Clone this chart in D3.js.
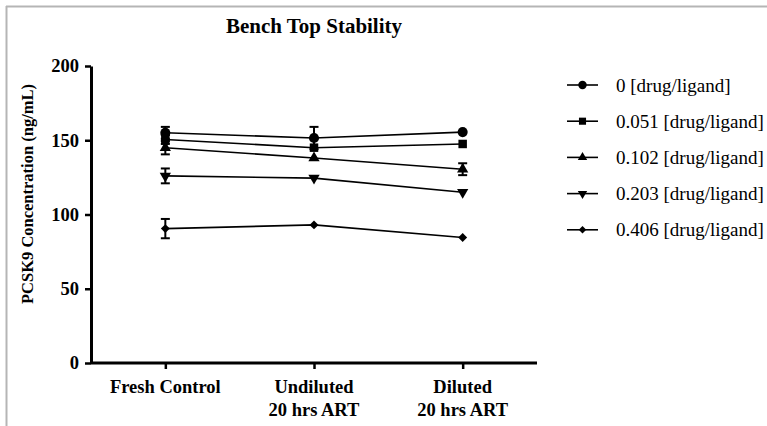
<!DOCTYPE html>
<html>
<head>
<meta charset="utf-8">
<script src="https://cdn.jsdelivr.net/npm/d3@7"></script>
<style>
  body { margin: 0; background: #fff; }
  text { font-family: "Liberation Serif", "Times New Roman", serif; fill: #000; }
</style>
</head>
<body>
<div id="chart"></div>
<script>
// DATA
const categories = ["Fresh Control", "Undiluted|20 hrs ART", "Diluted|20 hrs ART"];
const seriesNames = ["0 [drug/ligand]", "0.051 [drug/ligand]", "0.102 [drug/ligand]", "0.203 [drug/ligand]", "0.406 [drug/ligand]"];
const seriesSymbols = ["circle", "square", "triangle", "triangleDown", "diamond"];
const values0 = [155, 151.5, 155.5];
const values1 = [150.5, 145, 147.5];
const values2 = [145, 138, 130.5];
const values3 = [126, 124.5, 115];
const values4 = [90.5, 93, 84.5];
const errors0 = [4, 7.5, 0];
const errors1 = [3, 0, 0];
const errors2 = [4.5, 0, 4];
const errors3 = [5, 0, 0];
const errors4 = [6.5, 0, 0];
const yTicks = [0, 50, 100, 150, 200];

const allValues = [values0, values1, values2, values3, values4];
const allErrors = [errors0, errors1, errors2, errors3, errors4];

const W = 767, H = 426;
const svg = d3.select('#chart').append('svg')
  .attr('width', W).attr('height', H);

// grey frame (top and left edges)
svg.append('line').attr('x1', 6).attr('x2', W).attr('y1', 6.5).attr('y2', 6.5)
  .attr('stroke', '#b5b5b5').attr('stroke-width', 2);
svg.append('line').attr('x1', 6.5).attr('x2', 6.5).attr('y1', 6).attr('y2', H)
  .attr('stroke', '#b5b5b5').attr('stroke-width', 2);

const x = d3.scalePoint().domain(categories).range([91, 537]).padding(0.5);
const y = d3.scaleLinear().domain([0, 200]).range([363, 66]);

// title
svg.append('text')
  .attr('x', 314).attr('y', 33)
  .attr('text-anchor', 'middle')
  .attr('font-weight', 'bold')
  .attr('font-size', 20)
  .attr('textLength', 176).attr('lengthAdjust', 'spacingAndGlyphs')
  .text('Bench Top Stability');

// y axis
const yAxisG = svg.append('g')
  .attr('transform', 'translate(91,0)')
  .call(d3.axisLeft(y).tickValues(yTicks).tickSize(6).tickSizeOuter(0).tickPadding(6));
yAxisG.selectAll('text').attr('font-size', 18.5).attr('font-weight', 'bold')
  .attr('font-family', '"Liberation Serif", serif').attr('fill', '#000');

// x axis
const xAxisG = svg.append('g')
  .attr('transform', 'translate(0,363)')
  .call(d3.axisBottom(x).tickSize(6).tickSizeOuter(0).tickFormat(''));
xAxisG.select('.domain').attr('d', 'M91,0H537');

[yAxisG, xAxisG].forEach(g => {
  g.select('.domain').attr('stroke', '#000').attr('stroke-width', 3);
  g.selectAll('.tick line').attr('stroke', '#000').attr('stroke-width', 2.5);
});

// x tick labels (two lines)
categories.forEach(c => {
  const parts = c.split('|');
  const t = svg.append('text')
    .attr('text-anchor', 'middle')
    .attr('font-weight', 'bold')
    .attr('font-size', 18.5);
  parts.forEach((p, i) => {
    t.append('tspan').attr('x', x(c)).attr('y', 393 + i * 23).text(p);
  });
});

// y label
svg.append('text')
  .attr('transform', 'translate(33,194) rotate(-90)')
  .attr('text-anchor', 'middle')
  .attr('font-size', 16.5)
  .attr('font-weight', 'bold')
  .attr('fill', '#000')
  .text('PCSK9 Concentration (ng/mL)');

function symbolPath(name, scale) {
  const s = scale || 1;
  if (name === 'circle') return d3.symbol(d3.symbolCircle, 80 * s)();
  if (name === 'square') return d3.symbol(d3.symbolSquare, 72 * s)();
  if (name === 'triangle') return d3.symbol(d3.symbolTriangle, 55 * s)();
  if (name === 'triangleDown') return d3.symbol(d3.symbolTriangle, 55 * s)();
  if (name === 'diamond') return d3.symbol(d3.symbolSquare, 40 * s)();
}
function symbolRotate(name) {
  if (name === 'triangleDown') return ' rotate(180)';
  if (name === 'diamond') return ' rotate(45)';
  return '';
}

const line = d3.line()
  .x((d, i) => x(categories[i]))
  .y(d => y(d));

const plot = svg.append('g');

// error bars
allValues.forEach((vals, si) => {
  vals.forEach((v, i) => {
    const e = allErrors[si][i];
    if (!e) return;
    const cx = x(categories[i]);
    const g = plot.append('g').attr('stroke', '#000').attr('stroke-width', 2);
    g.append('line').attr('x1', cx).attr('x2', cx).attr('y1', y(v + e)).attr('y2', y(v - e));
    g.append('line').attr('x1', cx - 4.5).attr('x2', cx + 4.5).attr('y1', y(v + e)).attr('y2', y(v + e));
    g.append('line').attr('x1', cx - 4.5).attr('x2', cx + 4.5).attr('y1', y(v - e)).attr('y2', y(v - e));
  });
});

// lines
allValues.forEach(vals => {
  plot.append('path')
    .attr('d', line(vals))
    .attr('fill', 'none')
    .attr('stroke', '#000')
    .attr('stroke-width', 1.6);
});

// markers
allValues.forEach((vals, si) => {
  vals.forEach((v, i) => {
    plot.append('path')
      .attr('d', symbolPath(seriesSymbols[si]))
      .attr('transform', `translate(${x(categories[i])},${y(v)})` + symbolRotate(seriesSymbols[si]))
      .attr('fill', '#000');
  });
});

// legend
const legend = svg.append('g');
seriesNames.forEach((name, i) => {
  const ly = 85 + i * 36.2;
  legend.append('line').attr('x1', 567).attr('x2', 598).attr('y1', ly).attr('y2', ly)
    .attr('stroke', '#000').attr('stroke-width', 1.6);
  legend.append('path')
    .attr('d', symbolPath(seriesSymbols[i], 0.7))
    .attr('transform', `translate(582.5,${ly})` + symbolRotate(seriesSymbols[i]))
    .attr('fill', '#000');
  legend.append('text')
    .attr('x', 616).attr('y', ly + 6.5)
    .attr('font-size', 19)
    .text(name);
});
</script>
</body>
</html>
